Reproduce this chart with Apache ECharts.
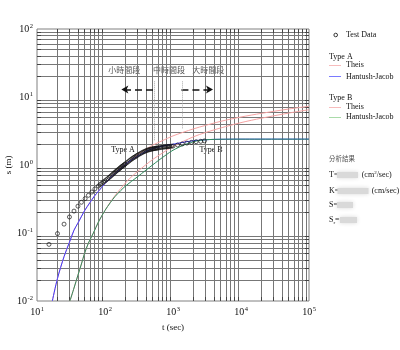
<!DOCTYPE html>
<html><head><meta charset="utf-8">
<script src="https://cdn.jsdelivr.net/npm/echarts@6/dist/echarts.min.js"></script>
<style>html,body{margin:0;padding:0;background:#fff}#c{width:400px;height:350px}</style>
</head><body><div id="c"></div>
<script>
// ---- Data ----
const testT = [15,20,25,30,35,40,45,51,57,64,71,80,85,90,95,100,105,110,115,120,125,130,135,140,145,150,155,160,165,170,175,180,185,190,195,200,210,220,230,240,250,260,270,280,290,300,315,330,345,360,375,390,405,420,435,450,465,480,495,510,525,540,555,570,585,600,630,660,690,720,750,780,810,840,870,900,950,1000,1170,1370,1600,1870,2190,2560,2900];
const testS = [0.068,0.098,0.135,0.172,0.21,0.248,0.283,0.32,0.358,0.40,0.445,0.49,0.515,0.54,0.563,0.585,0.607,0.63,0.655,0.68,0.705,0.73,0.755,0.78,0.805,0.83,0.85,0.87,0.895,0.92,0.94,0.96,0.98,1.0,1.02,1.04,1.08,1.12,1.16,1.2,1.235,1.27,1.3,1.33,1.36,1.39,1.43,1.47,1.505,1.54,1.57,1.6,1.625,1.65,1.665,1.68,1.695,1.71,1.72,1.73,1.74,1.75,1.76,1.77,1.775,1.78,1.795,1.81,1.82,1.83,1.84,1.85,1.86,1.87,1.875,1.88,1.89,1.9,1.97,2.04,2.1,2.15,2.2,2.23,2.26];

const aHJ_T = [16.8,20,25,30,35,40,50,60,70,80,100,130,160,200,250,300,400,500,700,1000,1500,2000,3000,4000,6000,10000,100000];
const aHJ_S = [0.01,0.0215,0.045,0.073,0.11,0.14,0.212,0.28,0.35,0.41,0.535,0.70,0.84,1.02,1.2,1.34,1.58,1.74,1.9,2.02,2.18,2.27,2.35,2.38,2.39,2.4,2.4];

const aTh_T = [16.8,20,25,30,35,40,50,60,70,80,100,130,160,218,300,500,700,1000,2000,3000,5000,10000,20000,50000,100000];
const aTh_S = [0.01,0.0215,0.045,0.073,0.11,0.14,0.212,0.28,0.35,0.41,0.535,0.71,0.87,1.1,1.42,1.95,2.28,2.68,3.4,3.82,4.38,5.08,5.75,6.65,7.3];

const bHJ_T = [30.5,35,40,45,50,57,67.5,80,100,120,139,170,200,300,400,500,600,800,1000,1500,2200,3000,5000,10000,100000];
const bHJ_S = [0.01,0.0155,0.024,0.035,0.05,0.071,0.1,0.145,0.215,0.28,0.34,0.42,0.49,0.67,0.84,1.0,1.15,1.42,1.65,2.0,2.25,2.35,2.39,2.4,2.4];

const bTh_T = [30.5,35,40,45,50,57,67.5,80,100,120,139,170,218,300,500,700,1000,2000,3000,5000,10000,20000,50000,100000];
const bTh_S = [0.01,0.0155,0.024,0.035,0.05,0.071,0.1,0.145,0.215,0.285,0.35,0.45,0.6,0.8,1.2,1.5,1.88,2.6,3.0,3.5,4.2,4.88,5.8,6.5];

// annotation marks (data coordinates)
const arrowSmall = [[508,12.85],[174,12.85]];
const arrowLarge = [[1330,12.85],[3875,12.85]];
const phaseLine1 = [[525,2.31],[525,17.6]];
const phaseLine2 = [[1350,3.46],[1350,17.6]];

const xRange = [10, 100000];
const yRange = [0.01, 100];
const seriesNames = ['Test Data','Type A Theis','Type A Hantush-Jacob','Type B Theis','Type B Hantush-Jacob'];

// minor tick values (2..9 in each decade)
const xMinorVals = [], yMinorVals = [];
for (let k=1;k<5;k++) for (let m=2;m<10;m++) xMinorVals.push(m*Math.pow(10,k));
for (let k=-2;k<2;k++) for (let m=2;m<10;m++) yMinorVals.push(Number((m*Math.pow(10,k)).toPrecision(6)));

// ---- Chart ----
const serif = 'Liberation Serif';
const cjk = 'Noto Sans CJK TC';
const pink = '#f5a3a3', blue = '#3c3cff', green = '#2f8a5c';
const zip = (a,b) => a.map((v,i)=>[v,b[i]]);

function lab(v){ const e=Math.round(Math.log10(v)); return '{b|10}{s|'+e+'}'; }
const rich = {
  b:{fontSize:10,fontFamily:serif,color:'#111',lineHeight:12},
  s:{fontSize:6.5,fontFamily:serif,color:'#111',verticalAlign:'top',lineHeight:12, padding:[0,0,0,0.5]}
};

const chart = echarts.init(document.getElementById('c'));

const txt = (x,y,text,extra) => ({type:'text',x:x,y:y,silent:true,style:Object.assign({text:text,font:'8px "'+serif+'"',fill:'#111',verticalAlign:'middle'},extra||{})});
const legendGraphics = [
  txt(124.3,70,'小時間段',{font:'8px "'+cjk+'"',fill:'#555',align:'center'}),
  txt(169,70,'中時間段',{font:'8px "'+cjk+'"',fill:'#555',align:'center'}),
  txt(208.3,70,'大時間段',{font:'8px "'+cjk+'"',fill:'#555',align:'center'}),
  txt(123,150,'Type A',{align:'center'}),
  txt(211,150,'Type B',{align:'center'}),
  {type:'circle',shape:{cx:335.7,cy:35,r:1.8},style:{fill:'none',stroke:'#222',lineWidth:0.9}},
  txt(346,35,'Test Data'),
  txt(329,56.7,'Type A'),
  {type:'line',shape:{x1:329,y1:65.5,x2:341,y2:65.5},style:{stroke:'#f7bcbc',lineWidth:1}},
  txt(346,65.3,'Theis'),
  {type:'line',shape:{x1:329,y1:76.5,x2:341,y2:76.5},style:{stroke:'#7a7aff',lineWidth:1}},
  txt(346,76.7,'Hantush-Jacob'),
  txt(329,97.7,'Type B'),
  {type:'line',shape:{x1:329,y1:107.5,x2:341,y2:107.5},style:{stroke:'#f7bcbc',lineWidth:1}},
  txt(346,107.3,'Theis'),
  {type:'line',shape:{x1:329,y1:117.5,x2:341,y2:117.5},style:{stroke:'#a9dba9',lineWidth:1}},
  txt(346,117.3,'Hantush-Jacob'),
  txt(329,158.3,'分析結果',{font:'6.5px "'+cjk+'"',fill:'#555'}),
  txt(329,175,'T='),
  {type:'rect',shape:{x:337,y:172,width:21,height:6},style:{fill:'#d9d9d9',shadowBlur:4,shadowColor:'#d9d9d9'}},
  {type:'text',x:361.7,y:175,style:{text:'{n|(cm}{s|2}{n|/sec)}',verticalAlign:'middle',
    rich:{n:{fontSize:8,fontFamily:serif,fill:'#111',lineHeight:10},s:{fontSize:5,fontFamily:serif,fill:'#111',verticalAlign:'top',lineHeight:10}}}},
  txt(329,191,'K='),
  {type:'rect',shape:{x:337.5,y:188,width:31,height:6},style:{fill:'#d9d9d9',shadowBlur:4,shadowColor:'#d9d9d9'}},
  txt(371.7,191,'(cm/sec)'),
  txt(329,205,'S='),
  {type:'rect',shape:{x:337,y:202,width:16,height:6},style:{fill:'#d9d9d9',shadowBlur:4,shadowColor:'#d9d9d9'}},
  {type:'text',x:329,y:220,style:{text:'{n|S}{r|r}{n|=}',verticalAlign:'middle',
    rich:{n:{fontSize:8,fontFamily:serif,fill:'#111',lineHeight:10},r:{fontSize:5,fontFamily:serif,fill:'#111',verticalAlign:'bottom',lineHeight:10}}}},
  {type:'rect',shape:{x:340,y:217,width:17,height:6},style:{fill:'#d9d9d9',shadowBlur:4,shadowColor:'#d9d9d9'}}
];

const minorTickX = {show:true,inside:true,length:4,customValues:xMinorVals,lineStyle:{color:'#444',width:1}};
const minorTickY = {show:true,inside:true,length:4,customValues:yMinorVals,lineStyle:{color:'#444',width:1}};

chart.setOption({
  animation:false,
  backgroundColor:'#fff',
  grid:{left:37,top:29,width:272,height:272,containLabel:false,outerBoundsMode:'none',show:true,borderColor:'#808080',borderWidth:1},
  xAxis:[
    {type:'log',logBase:10,min:xRange[0],max:xRange[1],
    name:'t (sec)',nameLocation:'middle',nameGap:22,nameMoveOverlap:false,
    nameTextStyle:{fontFamily:serif,fontSize:9,color:'#111'},
    axisLine:{show:false},axisTick:minorTickX,
    splitLine:{show:true,lineStyle:{color:'#777',width:1}},
    axisLabel:{formatter:lab,rich:rich,margin:5}},
    {type:'log',logBase:10,min:xRange[0],max:xRange[1],position:'top',
    axisLine:{show:false},axisTick:minorTickX,splitLine:{show:false},axisLabel:{show:false}}
  ],
  yAxis:[
    {type:'log',logBase:10,min:yRange[0],max:yRange[1],
    name:'s (m)',nameLocation:'middle',nameGap:24,nameRotate:90,nameMoveOverlap:false,
    nameTextStyle:{fontFamily:serif,fontSize:9,color:'#111'},
    axisLine:{show:false},axisTick:minorTickY,
    splitLine:{show:true,lineStyle:{color:'#777',width:1}},
    axisLabel:{formatter:lab,rich:rich,margin:4}},
    {type:'log',logBase:10,min:yRange[0],max:yRange[1],position:'right',
    axisLine:{show:false},axisTick:minorTickY,splitLine:{show:false},axisLabel:{show:false}}
  ],
  graphic: legendGraphics,
  series:[
    {name:seriesNames[1],type:'line',data:zip(aTh_T,aTh_S),smooth:0.3,showSymbol:false,lineStyle:{color:pink,width:1},z:4},
    {name:seriesNames[3],type:'line',data:zip(bTh_T,bTh_S),smooth:0.3,showSymbol:false,lineStyle:{color:pink,width:1},z:4},
    {name:seriesNames[2],type:'line',data:zip(aHJ_T,aHJ_S),smooth:0.3,showSymbol:false,lineStyle:{color:blue,width:1},z:5},
    {name:seriesNames[4],type:'line',data:zip(bHJ_T,bHJ_S),smooth:0.3,showSymbol:false,lineStyle:{color:green,width:1},z:5},
    {name:seriesNames[0],type:'scatter',data:zip(testT,testS),symbol:'circle',symbolSize:4,
      itemStyle:{color:'rgba(0,0,0,0)',borderColor:'#111',borderWidth:0.85},z:6},
    {type:'line',data:[],silent:true,
      markLine:{silent:true,symbol:['none','arrow'],symbolSize:[6,7],label:{show:false},
        lineStyle:{color:'#111',width:1.6,type:[7,4]},
        data:[[{coord:arrowSmall[0]},{coord:arrowSmall[1]}],[{coord:arrowLarge[0]},{coord:arrowLarge[1]}]]}},
    {type:'line',data:[],silent:true,
      markLine:{silent:true,symbol:['none','none'],label:{show:false},
        lineStyle:{color:'#aaa',width:1,type:'dotted'},
        data:[[{coord:phaseLine1[0]},{coord:phaseLine1[1]}],[{coord:phaseLine2[0]},{coord:phaseLine2[1]}]]}}
  ]
});
</script></body></html>
